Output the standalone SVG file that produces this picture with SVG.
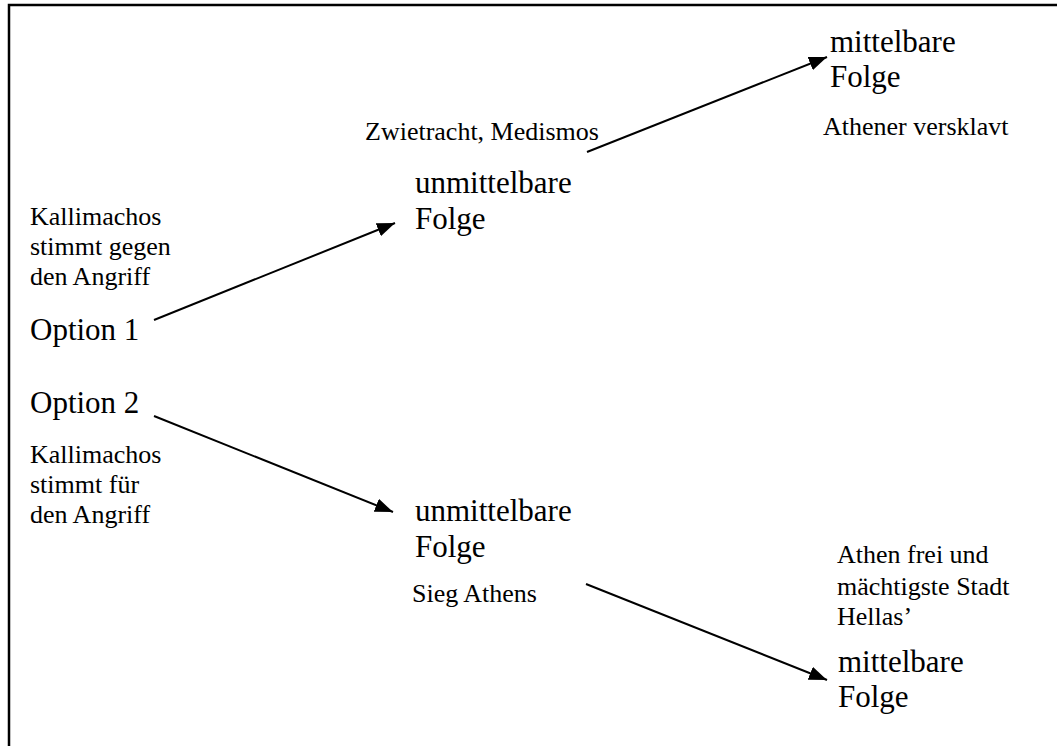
<svg xmlns="http://www.w3.org/2000/svg" width="1057" height="746" viewBox="0 0 1057 746">
<style>
text{font-family:"Liberation Serif","Times New Roman",serif;fill:#000}
.big{font-size:31px}
.small{font-size:26px}
.conn line{stroke:#000;stroke-width:2;marker-end:url(#ah)}
</style>
<defs>
<marker id="ah" markerUnits="userSpaceOnUse" markerWidth="18" markerHeight="14" refX="18" refY="7" orient="auto" viewBox="0 0 18 14">
<path d="M0,0 L18,7 L0,14 z" fill="#000"/>
</marker>
</defs>
<rect width="1057" height="746" fill="#fff"/>
<path d="M1057,5 H9 V746" fill="none" stroke="#000" stroke-width="2.5"/>
<g id="kallimachos-gegen"><text class="small" x="30" y="225">Kallimachos</text><text class="small" x="30" y="255">stimmt gegen</text><text class="small" x="30" y="285">den Angriff</text></g>
<g id="option1"><text class="big" x="30" y="340">Option 1</text></g>
<g id="option2"><text class="big" x="30" y="413">Option 2</text></g>
<g id="kallimachos-fuer"><text class="small" x="30" y="463">Kallimachos</text><text class="small" x="30" y="493">stimmt für</text><text class="small" x="30" y="523">den Angriff</text></g>
<g id="zwietracht"><text class="small" x="365" y="140">Zwietracht, Medismos</text></g>
<g id="unmittelbar1"><text class="big" x="415" y="193">unmittelbare</text><text class="big" x="415" y="229">Folge</text></g>
<g id="mittelbar1"><text class="big" x="830" y="52">mittelbare</text><text class="big" x="830" y="87">Folge</text></g>
<g id="versklavt"><text class="small" x="823" y="135">Athener versklavt</text></g>
<g id="unmittelbar2"><text class="big" x="415" y="521">unmittelbare</text><text class="big" x="415" y="557">Folge</text></g>
<g id="sieg"><text class="small" x="412" y="602">Sieg Athens</text></g>
<g id="athenfrei"><text class="small" x="837" y="563">Athen frei und</text><text class="small" x="837" y="595">mächtigste Stadt</text><text class="small" x="837" y="625">Hellas’</text></g>
<g id="mittelbar2"><text class="big" x="838" y="672">mittelbare</text><text class="big" x="838" y="707">Folge</text></g>
<g id="connectors" class="conn">
<line x1="154" y1="320" x2="395" y2="223"/>
<line x1="587" y1="152" x2="827" y2="57"/>
<line x1="154" y1="416" x2="393" y2="512"/>
<line x1="586" y1="584" x2="827" y2="680"/>
</g>
</svg>
